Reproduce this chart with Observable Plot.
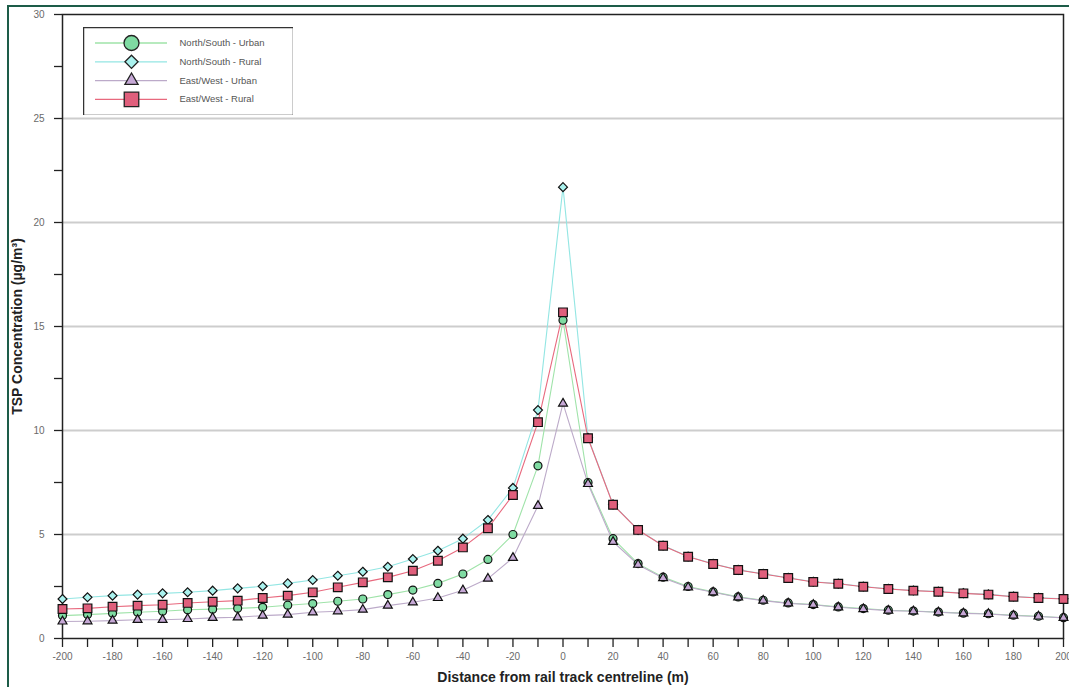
<!DOCTYPE html>
<html><head><meta charset="utf-8">
<script src="https://cdn.jsdelivr.net/npm/d3@7"></script>
<script src="https://cdn.jsdelivr.net/npm/@observablehq/plot@0.6"></script>
<style>
body{margin:0;background:#fff;}
#wrap{position:relative;width:1069px;height:687px;overflow:hidden;font-family:"Liberation Sans",Arial,sans-serif;background:#fff;}
#border{position:absolute;left:7px;top:5px;width:1100px;height:700px;border-left:2px solid #1d5c48;border-top:2px solid #1d5c48;pointer-events:none;}
#legend{position:absolute;left:83px;top:27px;}
</style></head><body>
<div id="wrap"><div id="chart"></div><div id="legend"></div><div id="border"></div></div>
<script>
const distance = [-200,-190,-180,-170,-160,-150,-140,-130,-120,-110,-100,-90,-80,-70,-60,-50,-40,-30,-20,-10,0,10,20,30,40,50,60,70,80,90,100,110,120,130,140,150,160,170,180,190,200];
const nsUrban = [1.10,1.15,1.21,1.26,1.31,1.38,1.41,1.45,1.50,1.60,1.68,1.79,1.90,2.11,2.33,2.65,3.10,3.80,5.00,8.30,15.30,7.50,4.80,3.60,2.95,2.50,2.24,2.00,1.84,1.71,1.63,1.52,1.44,1.36,1.32,1.27,1.22,1.19,1.12,1.07,1.00];
const nsRural = [1.90,1.98,2.06,2.11,2.17,2.22,2.30,2.41,2.51,2.65,2.81,3.02,3.21,3.45,3.82,4.22,4.80,5.70,7.24,10.98,21.70,9.65,6.45,5.22,4.47,3.94,3.59,3.30,3.11,2.92,2.73,2.64,2.50,2.39,2.31,2.26,2.18,2.12,2.02,1.96,1.91];
const ewUrban = [0.82,0.83,0.86,0.90,0.90,0.94,0.99,1.02,1.10,1.15,1.26,1.31,1.39,1.58,1.74,1.95,2.32,2.88,3.88,6.38,11.30,7.43,4.65,3.55,2.91,2.46,2.22,1.98,1.82,1.69,1.62,1.50,1.42,1.34,1.31,1.26,1.21,1.18,1.10,1.06,0.99];
const ewRural = [1.42,1.45,1.53,1.58,1.62,1.71,1.77,1.82,1.95,2.06,2.22,2.46,2.70,2.94,3.26,3.74,4.38,5.30,6.90,10.40,15.68,9.63,6.43,5.22,4.46,3.93,3.58,3.29,3.10,2.91,2.72,2.63,2.49,2.38,2.30,2.25,2.17,2.11,2.01,1.95,1.90];
const seriesNames = ["North/South - Urban","North/South - Rural","East/West - Urban","East/West - Rural"];
const xTicks = [-200,-190,-180,-170,-160,-150,-140,-130,-120,-110,-100,-90,-80,-70,-60,-50,-40,-30,-20,-10,0,10,20,30,40,50,60,70,80,90,100,110,120,130,140,150,160,170,180,190,200];
const yTicks = [0,2.5,5,7.5,10,12.5,15,17.5,20,22.5,25,27.5,30];
const gridValues = [5,10,15,20,25];
const xLabel = "Distance from rail track centreline (m)";
const yLabel = "TSP Concentration (µg/m³)";

const styles = [
  {symbol:"circle",   line:"#9fe3a9", fill:"#7fdba2", r:4.0,  lr:7.5},
  {symbol:"diamond2", line:"#93e6e3", fill:"#aaf2ee", r:4.0,  lr:5.9},
  {symbol:"triangle", line:"#bcaac9", fill:"#c6a8d6", r:3.3,  lr:4.9},
  {symbol:"square",   line:"#e8697e", fill:"#e05f7c", r:4.9,  lr:8.2}
];
const valuesList = [nsUrban, nsRural, ewUrban, ewRural];
const tables = seriesNames.map((name, k) => distance.map((d, i) => ({series:name, x:d, y:valuesList[k][i]})));

const marks = [
  Plot.ruleY(gridValues, {stroke:"#cdcdcd", strokeWidth:2}),
  Plot.frame({stroke:"#222", strokeWidth:1.5}),
  Plot.axisX({ticks:xTicks, tickSize:9, tickPadding:5, tickFormat:d => d % 20 === 0 ? String(d) : "", stroke:"#222", strokeWidth:1.3, fontSize:10, label:null}),
  Plot.axisY({ticks:yTicks, tickSize:8, tickPadding:10, tickFormat:d => d % 5 === 0 ? String(d) : "", stroke:"#222", strokeWidth:1.3, fontSize:10, label:null}),
];
tables.forEach((t, k) => {
  marks.push(Plot.line(t, {x:"x", y:"y", stroke:styles[k].line, strokeWidth:1.1}));
});
tables.forEach((t, k) => {
  marks.push(Plot.dot(t, {x:"x", y:"y", symbol:styles[k].symbol, r:styles[k].r, fill:styles[k].fill, stroke:"#111", strokeWidth:1.2}));
});
marks.push(Plot.text([xLabel], {text:d => d, frameAnchor:"bottom", dy:39, lineAnchor:"middle", textAnchor:"middle", fontWeight:"bold", fontSize:14, fill:"#222"}));
marks.push(Plot.text([yLabel], {text:d => d, frameAnchor:"left", dx:-45, rotate:-90, lineAnchor:"middle", textAnchor:"middle", fontWeight:"bold", fontSize:14, fill:"#222"}));

const chart = Plot.plot({
  width:1069, height:687,
  marginTop:14, marginRight:6, marginBottom:49, marginLeft:62,
  style:{fontFamily:"Liberation Sans, Arial, sans-serif", fontSize:"10px", background:"transparent"},
  x:{domain:[-200,200]},
  y:{domain:[0,30]},
  marks
});
d3.select(chart).selectAll('[aria-label="x-axis tick label"] text, [aria-label="y-axis tick label"] text').attr("fill", "#6a6a6a");
d3.select(chart).selectAll('[aria-label="x-axis tick label"], [aria-label="y-axis tick label"]').attr("fill", "#6a6a6a");
document.getElementById("chart").appendChild(chart);

// legend
const legendRows = seriesNames.map((name, i) => ({name, i}));
const lw = 210, lh = 88;
const legend = Plot.plot({
  width:lw, height:lh, margin:0,
  x:{domain:[0, lw], range:[0, lw], axis:null},
  y:{domain:[0, lh], range:[0, lh], axis:null},
  style:{fontFamily:"Liberation Sans, Arial, sans-serif", fontSize:"9.5px", background:"#fff"},
  marks:[
    Plot.frame({stroke:"#333", strokeWidth:1.5}),
    ...legendRows.map(d => Plot.ruleY([15.5 + d.i*18.8], {x1:12, x2:84, stroke:styles[d.i].line, strokeWidth:1.3})),
    ...legendRows.map(d => Plot.dot([d], {x:() => 48, y:() => 15.5 + d.i*18.8, symbol:styles[d.i].symbol, r:styles[d.i].lr, fill:styles[d.i].fill, stroke:"#222", strokeWidth:1.3})),
    Plot.text(legendRows, {x:() => 96, y:d => 15.5 + d.i*18.8, text:"name", textAnchor:"start", fill:"#555", fontSize:9.5})
  ]
});
document.getElementById("legend").appendChild(legend);
</script>
</body></html>
